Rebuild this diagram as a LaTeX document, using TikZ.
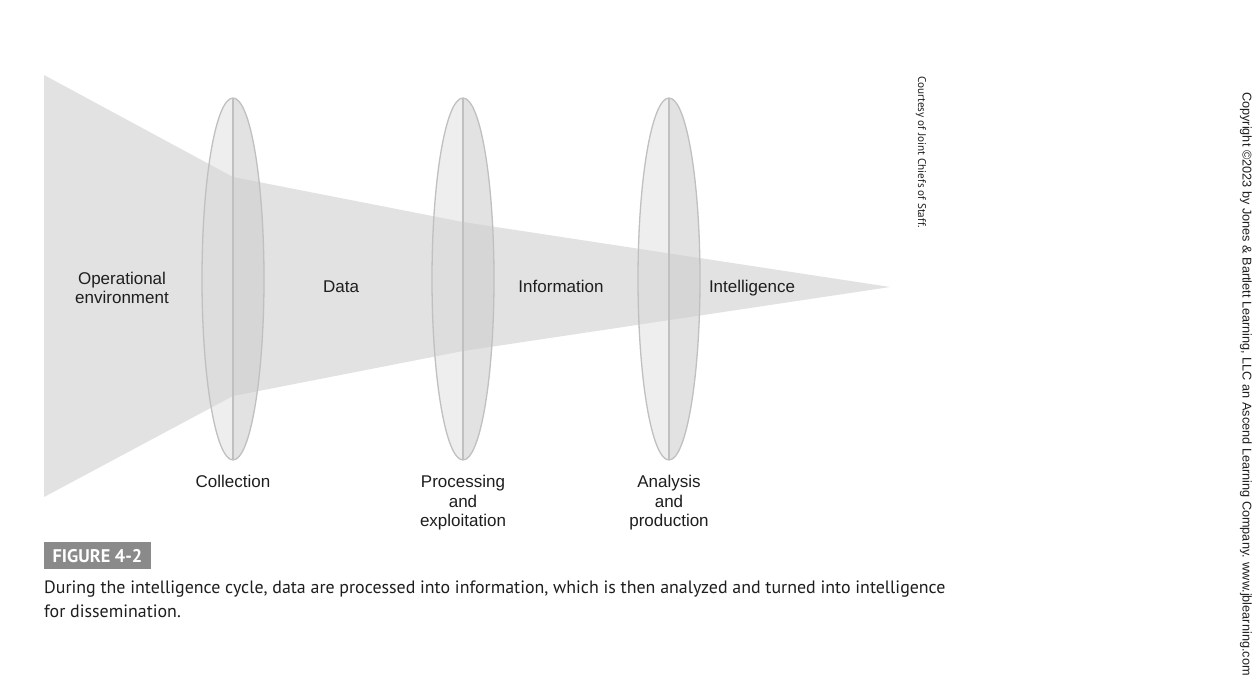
\documentclass[tikz,border=0pt]{standalone}
\usepackage{fontspec}
\setmainfont{Liberation Sans}
\newfontfamily\capfont{PT Sans}
\definecolor{wedge}{HTML}{E2E2E2}
\definecolor{lensline}{HTML}{C0C0C0}
\definecolor{lensL}{HTML}{D8D8D8}
\definecolor{lensR}{HTML}{CFCFCF}
\definecolor{figbox}{HTML}{8A8A8A}
\definecolor{txt}{HTML}{1E1E1E}
\tikzset{
  lbl/.style={font=\fontsize{17}{19.5}\selectfont, text=txt, align=center, inner sep=0pt},
  lensleft/.style={fill=lensL, fill opacity=0.41},
  lensright/.style={fill=lensR, fill opacity=0.59},
  lensedge/.style={draw=lensline, line width=1.3pt}
}
\newcommand{\mylens}[3]{% name, cx, cy
  \begin{scope}
    \clip (#2-40,0) rectangle (#2,694);
    \fill[lensleft] (#2,#3) ellipse [x radius=31, y radius=181];
  \end{scope}
  \begin{scope}
    \clip (#2,0) rectangle (#2+40,694);
    \fill[lensright] (#2,#3) ellipse [x radius=31, y radius=181];
  \end{scope}
  \draw[lensedge] (#2,#3) ellipse [x radius=31, y radius=181];
  \coordinate (#1top) at (#2,#3-181);
  \coordinate (#1bot) at (#2,#3+181);
  \draw[lensedge] (#1top) -- (#1bot);
}
\begin{document}
\begin{tikzpicture}[x=1pt,y=-1pt]
\useasboundingbox (0,0) rectangle (1260,694);
\fill[white] (0,0) rectangle (1260,694);
% wedge
\fill[wedge] (44,75) -- (233,177) -- (463,222) -- (890,287) -- (463,351) -- (233,396) -- (44,497) -- cycle;
% lenses
\mylens{col}{233}{279}
\mylens{proc}{463}{279}
\mylens{ana}{669}{279}
% labels
\node[lbl] (openv) at (122,288) {Operational\\environment};
\node[lbl, anchor=base] (data) at (341,292) {Data};
\node[lbl, anchor=base] (info) at (561,292) {Information};
\node[lbl, anchor=base] (intel) at (752,292) {Intelligence};
\node[lbl, anchor=north] (colL) at (233,475) {Collection};
\node[lbl, anchor=north] (procL) at (463,475) {Processing\\and\\exploitation};
\node[lbl, anchor=north] (anaL) at (669,475) {Analysis\\and\\production};
% figure box
\fill[figbox] (44,542) rectangle (151,569);
\node[font=\capfont\bfseries\fontsize{18.3}{20}\selectfont, text=white, inner sep=0pt] (fig) at (97.5,556) {FIGURE 4-2};
\node[font=\capfont\fontsize{17.9}{24}\selectfont, text=txt, anchor=north west, align=left, inner sep=0pt] (cap) at (44,581) {During the intelligence cycle, data are processed into information, which is then analyzed and turned into intelligence\\for dissemination.};
% side credits
\node[font=\capfont\fontsize{11.2}{13}\selectfont, text=txt, rotate=-90, inner sep=0pt] (court) at (921,152) {Courtesy of Joint Chiefs of Staff.};
\node[font=\fontsize{12.7}{14}\selectfont, text=txt, rotate=-90, inner sep=0pt] (copy) at (1246,384) {Copyright \textcopyright 2023 by Jones \& Bartlett Learning, LLC an Ascend Learning Company. www.jblearning.com};
\end{tikzpicture}
\end{document}
